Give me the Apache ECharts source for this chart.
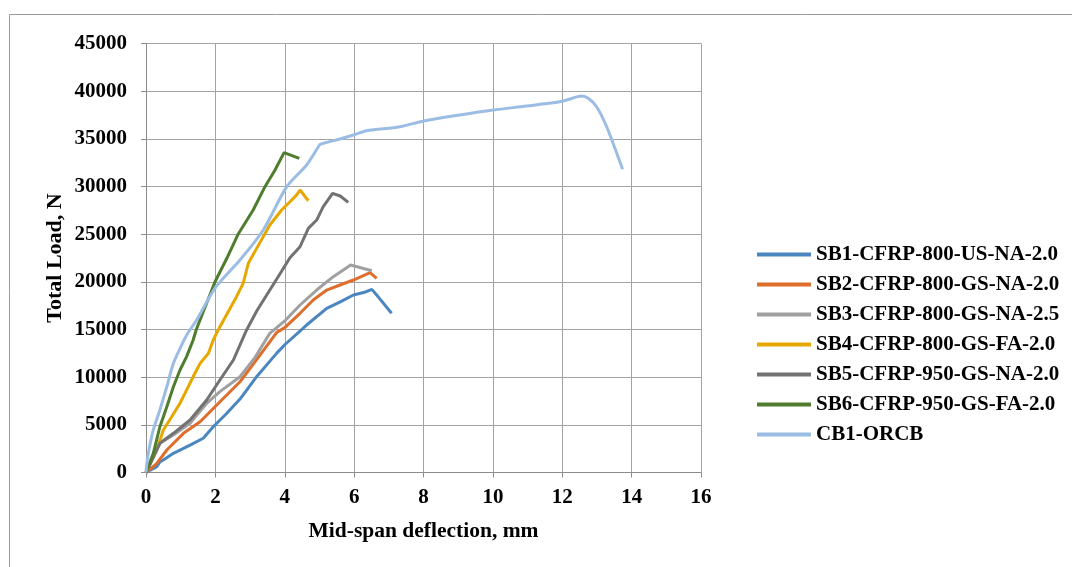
<!DOCTYPE html>
<html>
<head>
<meta charset="utf-8">
<script src="https://cdn.jsdelivr.net/npm/echarts@6/dist/echarts.min.js"></script>
<style>
    html, body { margin: 0; padding: 0; background: #fff; }
    #main { width: 1072px; height: 567px; }
</style>
</head>
<body>
<div id="main"></div>
<script>
// 图例名称
let names = [
    'SB1-CFRP-800-US-NA-2.0',
    'SB2-CFRP-800-GS-NA-2.0',
    'SB3-CFRP-800-GS-NA-2.5',
    'SB4-CFRP-800-GS-FA-2.0',
    'SB5-CFRP-950-GS-NA-2.0',
    'SB6-CFRP-950-GS-FA-2.0',
    'CB1-ORCB'
];
let colors = ['#4a86c0', '#dd6e2c', '#a0a0a0', '#e6a800', '#727272', '#4e7d2e', '#9bbde3'];

// [挠度 mm, 荷载 N]
let sb1 = [[0, 0], [0.31, 610], [0.4, 1100], [0.5, 1310], [0.79, 2010], [1.27, 2880], [1.65, 3590], [1.94, 4800],
    [2.33, 6210], [2.71, 7700], [3.2, 10100], [3.77, 12520], [4.0, 13400], [4.63, 15470], [5.21, 17220],
    [5.6, 17900], [5.98, 18620], [6.3, 18900], [6.51, 19210], [6.7, 18400], [7.08, 16700]];
let sb2 = [[0, 0], [0.3, 900], [0.6, 2360], [1.08, 4110], [1.56, 5330], [2.04, 7080], [2.71, 9520], [3.2, 11900],
    [3.77, 14700], [4.0, 15200], [4.44, 16700], [4.82, 18090], [5.21, 19140], [5.59, 19670], [5.98, 20190],
    [6.46, 20960], [6.65, 20370]];
let sb3 = [[0, 0], [0.4, 3060], [0.79, 3930], [1.27, 5160], [1.75, 7260], [2.13, 8480], [2.71, 10050], [3.15, 12100],
    [3.57, 14600], [4.0, 15900], [4.44, 17570], [4.92, 19140], [5.4, 20540], [5.9, 21760], [6.51, 21170]];
let sb4 = [[0, 0], [0.31, 2360], [0.5, 4460], [0.74, 5850], [0.98, 7260], [1.22, 9000], [1.41, 10410], [1.56, 11450],
    [1.8, 12500], [1.94, 13900], [2.08, 14950], [2.37, 16870], [2.61, 18440], [2.8, 19840], [2.95, 21940],
    [3.19, 23510], [3.57, 25960], [3.91, 27530], [4.15, 28400], [4.34, 29100], [4.44, 29630], [4.68, 28510]];
let sb5 = [[0, 0], [0.4, 3060], [0.79, 4110], [1.27, 5510], [1.75, 7600], [2.13, 9700], [2.52, 11800], [2.9, 14950],
    [3.2, 17000], [3.81, 20540], [4.15, 22530], [4.44, 23680], [4.68, 25610], [4.92, 26480], [5.11, 27880],
    [5.38, 29280], [5.6, 29000], [5.83, 28340]];
let sb6 = [[0, 0], [0.21, 2010], [0.4, 4800], [0.6, 6900], [0.79, 9000], [0.98, 10750], [1.17, 12150], [1.36, 13900],
    [1.45, 15000], [1.99, 20010], [2.33, 22470], [2.66, 25020], [3.09, 27530], [3.43, 29980], [3.72, 31730],
    [3.98, 33550], [4.42, 32950]];
let cb1 = [[0, 0], [0.05, 1660], [0.21, 4460], [0.4, 6560], [0.6, 9000], [0.79, 11450], [0.98, 13000], [1.17, 14400],
    [1.46, 16000], [2.02, 19490], [2.71, 22290], [3.38, 25440], [4.06, 29980], [4.63, 32260], [4.97, 34170],
    [5.02, 34420], [5.59, 34980], [5.98, 35400], [6.36, 35850], [7.32, 36270], [8.01, 36870], [9.05, 37500],
    [10.01, 38020], [10.97, 38440], [11.93, 38890], [12.13, 39070], [12.56, 39490], [12.75, 39250],
    [12.99, 38370], [13.28, 36270], [13.74, 31800]];

let allData = [sb1, sb2, sb3, sb4, sb5, sb6, cb1];

let font = 'Liberation Serif';
let series = allData.map((d, i) => ({
    name: names[i],
    type: 'line',
    data: d,
    showSymbol: false,
    symbol: 'none',
    smooth: i == 6 ? 0.3 : false, // CB1 尾部较圆滑
    color: colors[i],
    lineStyle: { width: 3, color: colors[i] }
}));

let option = {
    animation: false,
    backgroundColor: '#fff',
    textStyle: { fontFamily: font },
    graphic: [{
        type: 'rect',
        shape: { x: 9.5, y: 14.5, width: 1200, height: 700 },
        style: { fill: 'none', stroke: '#9a9a9a', lineWidth: 1 },
        silent: true
    }],
    grid: { left: 146, top: 43.5, right: 371, bottom: 94.5 },
    legend: {
        orient: 'vertical',
        left: 757,
        top: 244,
        padding: 0,
        itemWidth: 54,
        itemHeight: 4,
        itemGap: 9,
        icon: 'rect',
        textStyle: { fontFamily: font, fontWeight: 'bold', fontSize: 21, color: '#000' },
        data: names
    },
    xAxis: {
        type: 'value',
        min: 0,
        max: 16,
        interval: 2,
        name: 'Mid-span deflection, mm',
        nameLocation: 'middle',
        nameGap: 48,
        nameTextStyle: { fontFamily: font, fontWeight: 'bold', fontSize: 21.5, color: '#000' },
        axisLine: { show: true, lineStyle: { color: '#8c8c8c', width: 1 } },
        axisTick: { show: true, length: 5, lineStyle: { color: '#8c8c8c' } },
        axisLabel: { margin: 15, fontFamily: font, fontWeight: 'bold', fontSize: 21, color: '#000' },
        splitLine: { show: true, lineStyle: { color: '#a3a3a3', width: 1 } }
    },
    yAxis: {
        type: 'value',
        min: 0,
        max: 45000,
        interval: 5000,
        name: 'Total Load, N',
        nameLocation: 'middle',
        nameGap: 80,
        nameMoveOverlap: false,
        nameTextStyle: { fontFamily: font, fontWeight: 'bold', fontSize: 22, color: '#000' },
        axisLine: { show: true, lineStyle: { color: '#8c8c8c', width: 1 } },
        axisTick: { show: true, length: 5, lineStyle: { color: '#8c8c8c' } },
        axisLabel: {
            margin: 19, fontFamily: font, fontWeight: 'bold', fontSize: 21, color: '#000',
            formatter: (v) => String(v) // 不要千位分隔符
        },
        splitLine: { show: true, lineStyle: { color: '#a3a3a3', width: 1 } }
    },
    series: series
};

let chart = echarts.init(document.getElementById('main'));
chart.setOption(option);
</script>
</body>
</html>
